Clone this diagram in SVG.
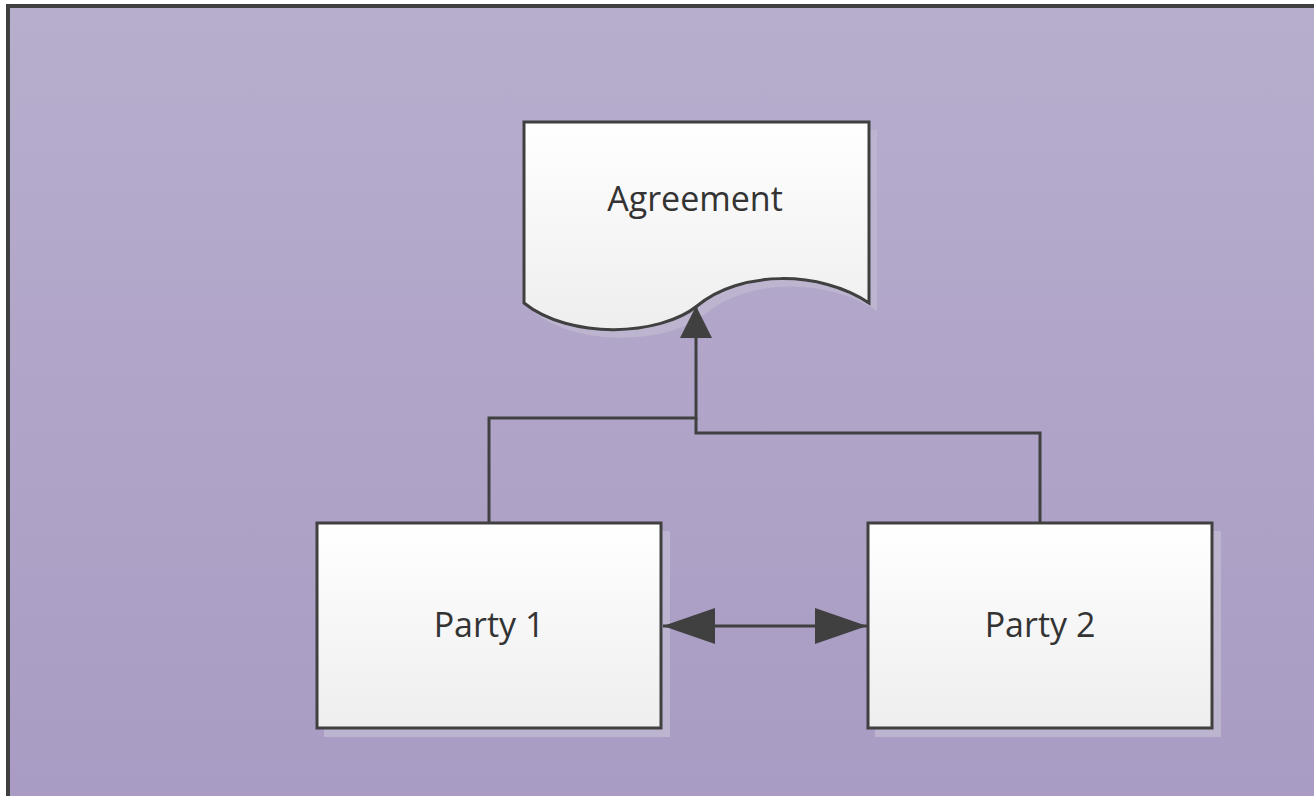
<svg xmlns="http://www.w3.org/2000/svg" width="1314" height="796" viewBox="0 0 1314 796">
<defs>
<linearGradient id="bg" x1="0" y1="0" x2="0" y2="1">
<stop offset="0" stop-color="#b7aecd"/>
<stop offset="1" stop-color="#a99bc3"/>
</linearGradient>
<linearGradient id="node" x1="0" y1="0" x2="0" y2="1">
<stop offset="0" stop-color="#ffffff"/>
<stop offset="1" stop-color="#eeeeee"/>
</linearGradient>
<marker id="ahBig" markerUnits="userSpaceOnUse" viewBox="0 0 52 36" refX="52" refY="18" markerWidth="52" markerHeight="36" orient="auto-start-reverse">
<polygon points="0,0 52,18 0,36" fill="#404040"/>
</marker>
<marker id="ahSmall" markerUnits="userSpaceOnUse" viewBox="0 0 32 32" refX="32" refY="16" markerWidth="32" markerHeight="32" orient="auto">
<polygon points="0,0 32,16 0,32" fill="#404040"/>
</marker>
</defs>
<style>
.shape{fill:url(#node);stroke:#404040;stroke-width:3}
.shadow{fill:#bdb5cf;stroke:none}
.lbl{font-family:"Open Sans","Noto Sans",sans-serif;font-size:34px;fill:#333333;text-anchor:middle}
.conn{fill:none;stroke:#404040;stroke-width:3}
</style>
<rect x="8" y="6" width="1320" height="800" fill="url(#bg)" stroke="#404040" stroke-width="4"/>
<g id="agreement">
<path class="shadow" d="M532,130 H877 V311 C828,278 748,278 705,314 C668,344 578,348 532,311 Z"/>
<path class="shape" d="M524,122 H869 V303 C820,270 740,270 697,306 C660,336 570,340 524,303 Z"/>
<text class="lbl" x="695" y="211">Agreement</text>
</g>
<g id="party1">
<rect class="shadow" x="324" y="531" width="346" height="206"/>
<rect class="shape" x="317" y="523" width="344" height="205"/>
<text class="lbl" x="489" y="637">Party 1</text>
</g>
<g id="party2">
<rect class="shadow" x="875" y="531" width="346" height="206"/>
<rect class="shape" x="868" y="523" width="344" height="205"/>
<text class="lbl" x="1040" y="637">Party 2</text>
</g>
<g id="connectors">
<path class="conn" d="M489,523 V418 H696 V306" marker-end="url(#ahSmall)"/>
<path class="conn" d="M1040,523 V433 H696 V418"/>
<path class="conn" d="M663,626 H867" marker-start="url(#ahBig)" marker-end="url(#ahBig)"/>
</g>
</svg>
